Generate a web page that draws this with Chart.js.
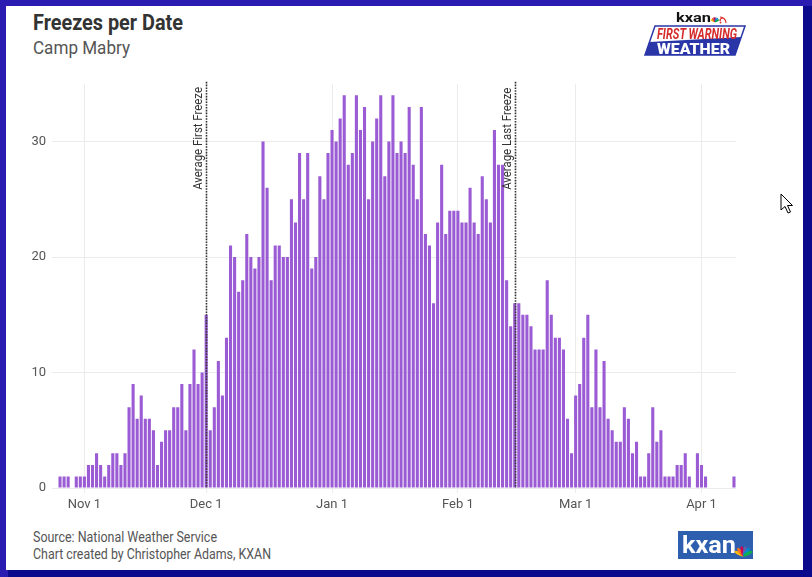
<!DOCTYPE html>
<html>
<head>
<meta charset="utf-8">
<title>Freezes per Date</title>
<script src="https://cdn.jsdelivr.net/npm/chart.js@4.4.1/dist/chart.umd.min.js"></script>
<style>
  html, body { margin: 0; padding: 0; }
  body { width: 812px; height: 577px; position: relative; overflow: hidden; background: #2a1bb1; font-family: Roboto, sans-serif; }
  .shade { position: absolute; left: 8px; top: 6px; right: 0; bottom: 0; background: #0b0a8c; }
  .panel { position: absolute; left: 6px; top: 6px; width: 797px; height: 564px; background: #fff; }
  .txt { position: absolute; white-space: nowrap; line-height: 1; transform-origin: 0 0; }
  .title { left: 33px; top: 12px; font-size: 22px; font-weight: 700; color: #333; }
  .sub { left: 33px; top: 39px; font-size: 18.5px; color: #555; }
  .foot { left: 33px; font-size: 14.5px; color: #555; }
  #box { position: absolute; left: 6px; top: 70px; width: 800px; height: 450px; }
  svg { position: absolute; left: 0; top: 0; }
</style>
</head>
<body>
<div class="shade"></div>
<div class="panel"></div>

<div class="txt title" data-w="150">Freezes per Date</div>
<div class="txt sub" data-w="97">Camp Mabry</div>
<div class="txt foot" style="top:531px" data-w="184">Source: National Weather Service</div>
<div class="txt foot" style="top:548px" data-w="238">Chart created by Christopher Adams, KXAN</div>

<div id="box"><canvas id="myChart"></canvas></div>

<svg width="812" height="577" viewBox="0 0 812 577">
  <!-- first warning weather logo -->
  <text x="676" y="22" font-family="Roboto" font-weight="700" font-size="13" fill="#111" textLength="35" lengthAdjust="spacingAndGlyphs">kxan</text>
  <g transform="translate(715,22)">
    <ellipse cx="0" cy="-2.5" rx="0.9" ry="2.5" fill="#fcb711" transform="rotate(-60)"/>
    <ellipse cx="0" cy="-2.5" rx="0.9" ry="2.5" fill="#f37021" transform="rotate(-36)"/>
    <ellipse cx="0" cy="-2.5" rx="0.9" ry="2.5" fill="#cc004c" transform="rotate(-12)"/>
    <ellipse cx="0" cy="-2.5" rx="0.9" ry="2.5" fill="#6460aa" transform="rotate(12)"/>
    <ellipse cx="0" cy="-2.5" rx="0.9" ry="2.5" fill="#0089d0" transform="rotate(36)"/>
    <ellipse cx="0" cy="-2.5" rx="0.9" ry="2.5" fill="#0db14b" transform="rotate(60)"/>
  </g>
  <path d="M720 21 a3 3 0 0 1 3 -3 M720 17 a6 6 0 0 1 6 6" stroke="#e02a2a" stroke-width="1.2" fill="none"/>
  <circle cx="720.5" cy="22.5" r="0.9" fill="#e02a2a"/>
  <polygon points="655,26 745,26 735,55 645,55" fill="#fff" stroke="#2a36a8" stroke-width="1.5"/>
  <polygon points="649.5,42 741.5,37 735,55 645,55" fill="#2a36a8"/>
  <text x="657" y="39" font-family="Roboto" font-weight="700" font-style="italic" font-size="14" fill="#d52b2b" textLength="80" lengthAdjust="spacingAndGlyphs">FIRST WARNING</text>
  <text x="657" y="53.5" font-family="Roboto" font-weight="900" font-size="15.5" fill="#fff" textLength="73" lengthAdjust="spacingAndGlyphs">WEATHER</text>

  <!-- kxan logo -->
  <rect x="678" y="531" width="75" height="28" fill="#2e5fae"/>
  <text x="682" y="553" font-family="Roboto" font-weight="700" font-size="24" fill="#fff" textLength="54" lengthAdjust="spacingAndGlyphs">kxan</text>
  <g transform="translate(743.5,556)">
    <ellipse cx="0" cy="-5" rx="1.6" ry="5" fill="#fcb711" transform="rotate(-62)"/>
    <ellipse cx="0" cy="-5" rx="1.6" ry="5" fill="#f37021" transform="rotate(-37)"/>
    <ellipse cx="0" cy="-5" rx="1.6" ry="5" fill="#cc004c" transform="rotate(-12)"/>
    <ellipse cx="0" cy="-5" rx="1.6" ry="5" fill="#6460aa" transform="rotate(12)"/>
    <ellipse cx="0" cy="-5" rx="1.6" ry="5" fill="#0089d0" transform="rotate(37)"/>
    <ellipse cx="0" cy="-5" rx="1.6" ry="5" fill="#0db14b" transform="rotate(62)"/>
  </g>

  <!-- mouse pointer -->
  <path d="M781 194 L781 210 L785 206.5 L788 213 L790.5 212 L787.5 205.5 L792.5 205.5 Z" fill="#fff" stroke="#000" stroke-width="1"/>
</svg>

<script>
// freezes per calendar date
var octFreezes = [1, 1, 1, 0, 1, 1]; // Oct 26 - 31
var novFreezes = [1, 2, 2, 3, 2, 1, 2, 3, 3, 2, 3, 7, 9, 6, 8, 6, 6, 5, 2, 4, 5, 5, 7, 7, 9, 5, 9, 12, 9, 10];
var decFreezes = [15, 5, 7, 11, 8, 13, 21, 20, 17, 18, 22, 20, 19, 20, 30, 26, 18, 21, 21, 20, 20, 25, 23, 29, 25, 29, 19, 20, 27, 25, 29];
var janFreezes = [31, 30, 32, 34, 28, 29, 34, 31, 33, 25, 30, 32, 34, 27, 30, 34, 29, 30, 29, 33, 28, 25, 33, 22, 21, 16, 23, 28, 22, 24, 24];
var febFreezes = [24, 23, 23, 26, 23, 22, 27, 25, 23, 31, 28, 28, 18, 14, 16, 16, 15, 15, 14, 12, 12, 12, 18, 15, 13, 13, 12, 6, 3];
var marFreezes = [8, 9, 13, 15, 7, 12, 7, 11, 6, 5, 4, 4, 7, 6, 3, 4, 1, 1, 3, 7, 4, 5, 1, 1, 1, 2, 2, 3, 1, 0, 3];
var aprFreezes = [2, 1, 0, 0, 0, 0, 0, 0, 1]; // Apr 1 - 9

var monthNames = ['Oct', 'Nov', 'Dec', 'Jan', 'Feb', 'Mar', 'Apr'];
var monthStart = [26, 1, 1, 1, 1, 1, 1];
var tickLabels = ['Nov 1', 'Dec 1', 'Jan 1', 'Feb 1', 'Mar 1', 'Apr 1'];
var yTicks = [0, 10, 20, 30];
var markerDates = ['Dec 1', 'Feb 15'];
var markerTexts = ['Average First Freeze', 'Average Last Freeze'];

var labels = [];
var freezes = [];
[octFreezes, novFreezes, decFreezes, janFreezes, febFreezes, marFreezes, aprFreezes].forEach(function (days, m) {
    days.forEach(function (v, d) {
        labels.push(monthNames[m] + ' ' + (monthStart[m] + d));
        freezes.push(v);
    });
});

// squeeze the html text to a condensed look
document.querySelectorAll('.txt').forEach(function (el) {
    var w = el.getBoundingClientRect().width;
    el.style.transform = 'scaleX(' + (el.dataset.w / w) + ')';
});

// dotted average freeze lines
var markerPlugin = {
    id: 'markers',
    afterDatasetsDraw: function (chart) {
        var c = chart.ctx;
        var area = chart.chartArea;
        var xs = chart.scales.x;
        markerDates.forEach(function (d, i) {
            var px = Math.round(xs.getPixelForValue(labels.indexOf(d))) + 0.5;
            c.save();
            c.strokeStyle = '#333';
            c.lineWidth = 1.6;
            c.setLineDash([1.6, 1.2]);
            c.beginPath();
            c.moveTo(px, area.top - 2);
            c.lineTo(px, area.bottom);
            c.stroke();
            c.setLineDash([]);
            c.font = '12px Roboto';
            c.fillStyle = '#333';
            c.textAlign = 'left';
            c.textBaseline = 'alphabetic';
            c.translate(px - 4.5, area.top + 106);
            c.rotate(-Math.PI / 2);
            c.scale(0.95, 1);
            c.fillText(markerTexts[i], 0, 0);
            c.restore();
        });
    }
};

Chart.defaults.font.family = 'Roboto';

var ctx = document.getElementById('myChart').getContext('2d');
var myChart = new Chart(ctx, {
    type: 'bar',
    data: {
        labels: labels,
        datasets: [{
            data: freezes,
            backgroundColor: '#9a5bd4',
            categoryPercentage: 0.76,
            barPercentage: 1
        }]
    },
    options: {
        responsive: true,
        maintainAspectRatio: false,
        animation: false,
        layout: { padding: { top: 11, right: 70, bottom: 0, left: 0 } },
        plugins: {
            legend: { display: false },
            tooltip: { enabled: false }
        },
        scales: {
            x: {
                offset: true,
                grid: { offset: false, color: '#ebebeb', tickLength: 5 },
                border: { display: false },
                ticks: { autoSkip: false, maxRotation: 0, color: '#555', font: { size: 13 }, padding: 4 },
                afterBuildTicks: function (s) {
                    s.ticks = s.ticks.filter(function (t) { return tickLabels.indexOf(labels[t.value]) >= 0; });
                },
                afterFit: function (s) { s.height = 32; }
            },
            y: {
                min: 0,
                max: 35,
                grid: { color: '#ebebeb', tickLength: 6 },
                border: { display: false },
                ticks: { color: '#555', font: { size: 13 }, padding: 6 },
                afterBuildTicks: function (s) {
                    s.ticks = yTicks.map(function (v) { return { value: v }; });
                },
                afterFit: function (s) { s.width = 52; }
            }
        }
    },
    plugins: [markerPlugin]
});
</script>
</body>
</html>
